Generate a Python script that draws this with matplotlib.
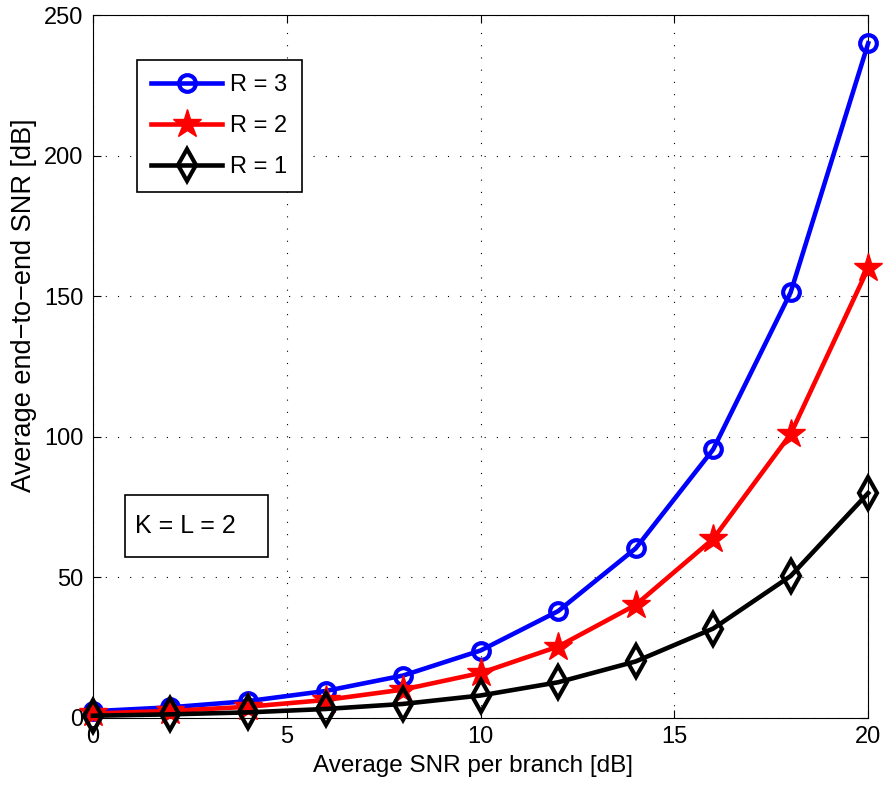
import matplotlib.pyplot as plt
from matplotlib.patches import Rectangle

plt.rcParams['font.family'] = ['Liberation Sans', 'DejaVu Sans']

# Average SNR per branch [dB]
snr_db = [0, 2, 4, 6, 8, 10, 12, 14, 16, 18, 20]
# Average end-to-end SNR
r3 = [2.4, 3.8, 6.0, 9.6, 15.1, 24.0, 38.0, 60.3, 95.5, 151.4, 240.0]
r2 = [1.6, 2.5, 4.0, 6.4, 10.1, 16.0, 25.4, 40.2, 63.7, 101.0, 160.0]
r1 = [0.8, 1.3, 2.0, 3.2, 5.0, 8.0, 12.7, 20.1, 31.8, 50.5, 80.0]

fig = plt.figure(figsize=(8.85, 7.96), dpi=100)
ax = fig.add_axes([0.105, 0.098, 0.876, 0.883])

ax.plot(snr_db, r3, color='blue', lw=3.3, marker='o', ms=12, mfc='none', mew=3,
        label='R = 3', clip_on=False, zorder=3)
ax.plot(snr_db, r2, color='red', lw=3.3, marker='*', ms=21, mfc='red', mew=1,
        label='R = 2', clip_on=False, zorder=3)
ax.plot(snr_db, r1, color='black', lw=3.3, marker='d', ms=16, mfc='none', mew=3,
        label='R = 1', clip_on=False, zorder=3)

ax.set_xlim(0, 20)
ax.set_ylim(0, 250)
ax.set_xticks([0, 5, 10, 15, 20])
ax.set_yticks([0, 50, 100, 150, 200, 250])
ax.tick_params(direction='in', labelsize=17, top=True, right=True, length=6)
ax.tick_params(axis='x', pad=6)
ax.tick_params(axis='y', pad=7)
ax.grid(True, linestyle=(0, (1, 10)), color='black', lw=0.8)
ax.set_xlabel('Average SNR per branch [dB]', fontsize=17.5)
ax.xaxis.set_label_coords(0.49, -0.052, transform=ax.transAxes)
ax.xaxis.label.set_va('top')
ax.set_ylabel('Average end\u2212to\u2212end SNR [dB]', fontsize=19.5)
ax.yaxis.set_label_coords(-0.072, 0.587)

leg = ax.legend(loc='upper left', bbox_to_anchor=(0.057, 0.936), borderaxespad=0,
                fontsize=17, fancybox=False, edgecolor='black', framealpha=1,
                handlelength=3.0, handletextpad=0.35, borderpad=0.6, labelspacing=0.8)
leg.get_frame().set_linewidth(1.2)

ax.add_patch(Rectangle((0.041, 0.229), 0.185, 0.088, transform=ax.transAxes,
                       fc='white', ec='black', lw=1.2, zorder=4))
ax.text(0.054, 0.273, 'K = L = 2', transform=ax.transAxes, fontsize=18,
        va='center', ha='left', zorder=5)

fig.savefig('out.png', dpi=100)
